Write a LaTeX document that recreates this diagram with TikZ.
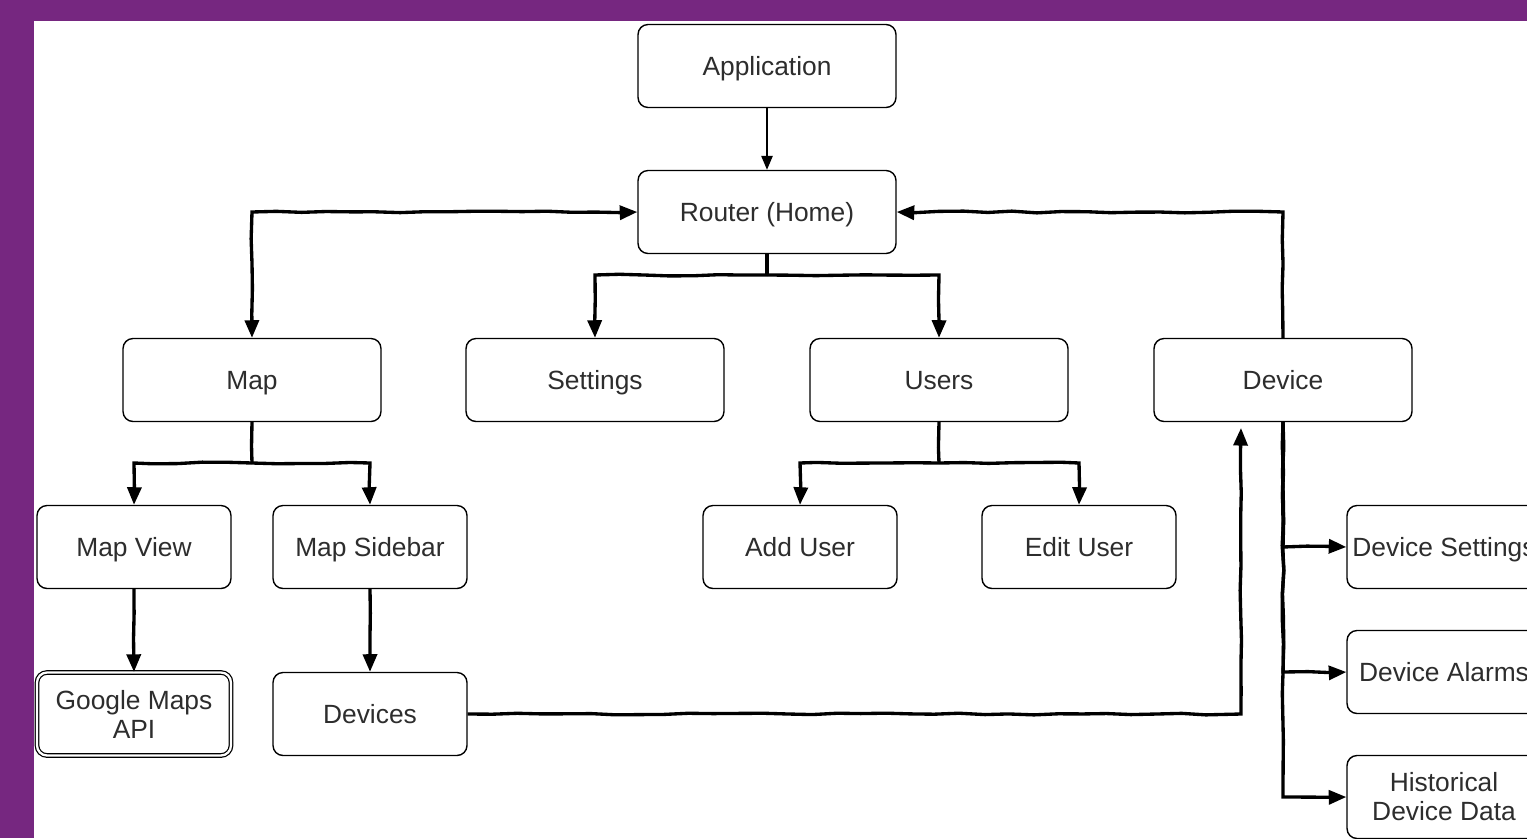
\documentclass[tikz,border=0pt]{standalone}
\usepackage{fontspec}
\setmainfont{Liberation Sans}
\usetikzlibrary{arrows.meta,decorations.pathmorphing}
\definecolor{frame}{RGB}{118,39,128}
\definecolor{txt}{RGB}{45,45,45}
\begin{document}
\begin{tikzpicture}[x=0.02cm,y=-0.02cm,
  box/.style={draw, rounded corners=0.2cm, line width=0.8pt, minimum width=5.16cm,
    minimum height=1.66cm, align=center, text=txt, inner sep=0pt,
    font=\fontsize{15}{16.5}\selectfont},
  one/.style={text height=10.7pt, text depth=0pt},
  sbox/.style={box, minimum width=3.88cm},
  dbox/.style={sbox, double, double distance=1.3pt, line width=0.7pt},
  wob/.style={decorate, decoration={random steps, segment length=14pt, amplitude=0.5pt}},
  conn/.style={line width=1.9pt, wob, -{Triangle[length=10pt,width=8pt]}},
  both/.style={line width=1.9pt, wob, {Triangle[length=10pt,width=8pt]}-{Triangle[length=10pt,width=8pt]}},
  plain/.style={line width=1.9pt, wob},
  thin/.style={line width=0.9pt, -{Triangle[length=8pt,width=6.5pt]}}]
\pgfmathsetseed{7}
\clip (0,0) rectangle (1527,838);
\fill[frame] (0,0) rectangle (1527,838);
\fill[white] (34,21) rectangle (1527,838);

\node[box,one] (app) at (767,66) {Application};
\node[box,one] (router) at (767,212) {Router (Home)};
\node[box,one] (map) at (252,380) {Map};
\node[box,one] (settings) at (595,380) {Settings};
\node[box,one] (users) at (939,380) {Users};
\node[box,one] (device) at (1283,380) {Device};
\node[sbox,one] (mapview) at (134,547) {Map View};
\node[sbox,one] (sidebar) at (370,547) {Map Sidebar};
\node[sbox,one] (adduser) at (800,547) {Add User};
\node[sbox,one] (edituser) at (1079,547) {Edit User};
\node[dbox] (gmaps) at (134,714) {Google Maps\\API};
\node[sbox,one] (devices) at (370,714) {Devices};
\node[sbox,one] (dset) at (1444,547) {Device Settings};
\node[sbox,one] (dalarm) at (1444,672) {Device Alarms};
\node[sbox] (dhist) at (1444,797) {Historical\\Device Data};

\coordinate (rj) at (767,275);
\coordinate (mj) at (252,463);
\coordinate (uj) at (939,463);
\coordinate (dtip) at (1241,428);

\draw[thin] (app) -- (router);
\draw[both] (map.north) |- (router.west);
\draw[conn] (device.north) |- (router.east);
\draw[plain] (router.south) -- (rj);
\draw[conn] (rj) -| (settings.north);
\draw[conn] (rj) -| (users.north);
\draw[plain] (map.south) -- (mj);
\draw[conn] (mj) -| (mapview.north);
\draw[conn] (mj) -| (sidebar.north);
\draw[plain] (users.south) -- (uj);
\draw[conn] (uj) -| (adduser.north);
\draw[conn] (uj) -| (edituser.north);
\draw[conn] (mapview) -- (gmaps);
\draw[conn] (sidebar) -- (devices);
\draw[conn] (devices.east) -| (dtip);
\draw[conn] (device.south) |- (dset.west);
\draw[conn] (device.south) |- (dalarm.west);
\draw[conn] (device.south) |- (dhist.west);
\end{tikzpicture}
\end{document}
